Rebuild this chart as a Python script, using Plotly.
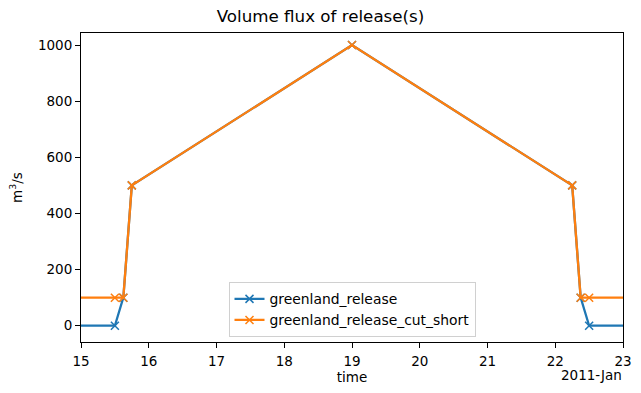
import plotly.graph_objects as go

# Data (days of January 2011)
release_days = [14.0, 15.5, 15.625, 15.75, 19.0, 22.25, 22.375, 22.5, 24.0]
release_vals = [0, 0, 100, 500, 1000, 500, 100, 0, 0]
cut_days = [14.0, 15.5, 15.625, 15.75, 19.0, 22.25, 22.375, 22.5, 24.0]
cut_vals = [100, 100, 100, 500, 1000, 500, 100, 100, 100]
x_ticks = [15, 16, 17, 18, 19, 20, 21, 22, 23]

def to_dt(d):
    day = int(d)
    frac = d - day
    secs = round(frac * 86400)
    h, rem = divmod(secs, 3600)
    m, s = divmod(rem, 60)
    return f"2011-01-{day:02d} {h:02d}:{m:02d}:{s:02d}"

FONT = "DejaVu Sans"
fig = go.Figure()
fig.add_trace(go.Scatter(
    x=[to_dt(d) for d in release_days], y=release_vals, name="greenland_release",
    mode="lines+markers", line=dict(color="#1f77b4", width=2.3),
    marker=dict(symbol="x-thin", size=8, line=dict(color="#1f77b4", width=1.5)),
    cliponaxis=True))
fig.add_trace(go.Scatter(
    x=[to_dt(d) for d in cut_days], y=cut_vals, name="greenland_release_cut_short",
    mode="lines+markers", line=dict(color="#ff7f0e", width=2.3),
    marker=dict(symbol="x-thin", size=8, line=dict(color="#ff7f0e", width=1.5)),
    cliponaxis=True))

fig.update_layout(
    width=641, height=393, plot_bgcolor="white", paper_bgcolor="white",
    margin=dict(l=81, r=18, t=33, b=51),
    font=dict(family=FONT, size=13.5, color="black"),
    title=dict(text="Volume flux of release(s)", x=0.5, xanchor="center", y=1, yref="container",
               yanchor="top", pad=dict(t=10), font=dict(size=16.7, family=FONT)),
    showlegend=True,
    legend=dict(x=0.5, xanchor="center", y=0.015, yanchor="bottom", bgcolor="rgba(255,255,255,0.8)",
                bordercolor="#d0d0d0", borderwidth=1, font=dict(size=13.9, family=FONT),
                tracegroupgap=0, itemwidth=30),
)
fig.update_xaxes(
    range=[to_dt(15), to_dt(23)], tickvals=[to_dt(d) for d in x_ticks],
    ticktext=[str(d) for d in x_ticks], showgrid=False, zeroline=False,
    showline=True, linecolor="black", linewidth=1, mirror=True,
    ticks="outside", ticklen=5, tickcolor="black", tickfont=dict(size=13.5),
    ticklabelstandoff=2, automargin=False,
    title=dict(text="time", font=dict(size=13.5), standoff=3))
fig.update_yaxes(
    range=[-58, 1043], tickvals=[0, 200, 400, 600, 800, 1000], showgrid=False, zeroline=False,
    showline=True, linecolor="black", linewidth=1, mirror=True,
    ticks="outside", ticklen=5, tickcolor="black", tickfont=dict(size=13.5),
    automargin=False,
    title=dict(text="m<sup>3</sup>/s", font=dict(size=13.5), standoff=12))
fig.add_annotation(text="2011-Jan", xref="paper", yref="paper", x=1, y=0, xanchor="right",
                   yanchor="top", yshift=-23, xshift=1, showarrow=False, font=dict(size=13.5, family=FONT))
fig.write_html("out.html")
